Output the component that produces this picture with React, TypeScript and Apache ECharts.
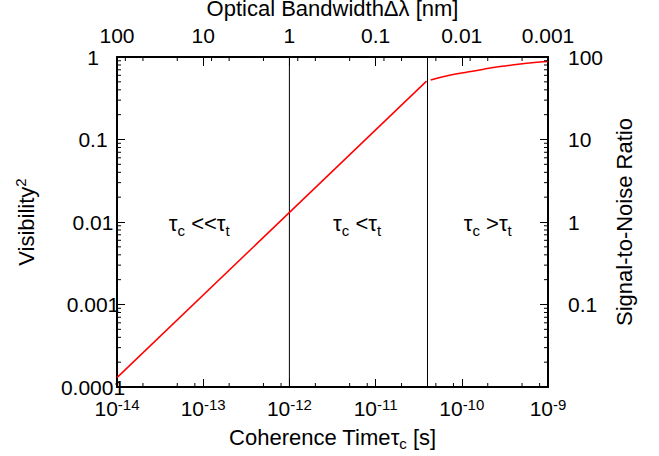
import React, { useEffect, useRef } from "react";
import * as echarts from "echarts";

const FONT = "'Liberation Sans', Arial, Helvetica, sans-serif";

// Coherence time range [s] and optical bandwidth range [nm]
const tauRange = [1e-14, 1e-9];
const bandwidthRange = [0.001, 100];
const visibilityRange = [1e-4, 1];
const snrRange = [0.01, 100];

// Red curve: visibility^2 vs coherence time
const visibilityLow: [number, number][] = [
  [1e-14, 1.3e-4],
  [3.9e-11, 0.51],
];
const visibilityHigh: [number, number][] = [
  [4.35e-11, 0.526],
  [7e-11, 0.595],
  [1.14e-10, 0.655],
  [1.8e-10, 0.712],
  [2.77e-10, 0.765],
  [4e-10, 0.805],
  [5.66e-10, 0.839],
  [7.5e-10, 0.862],
  [1e-9, 0.88],
];

// Regime boundaries (vertical lines)
const regimeBounds = [1e-12, 4e-11];

// Regime annotations
const regimeLabelX = [9e-14, 6.1e-12, 2.0e-10];
const regimeLabelY = [0.0095, 0.0095, 0.0095];
const regimeOps = ["<<", "<", ">"];

// Minor tick multipliers per decade
const bottomMinor = [2, 5, 8];
const topMinor = [2, 5, 8];
const leftMinor = [2, 3, 4, 5, 6, 7, 8, 9];
const rightMinor = [2, 3, 4, 5, 6, 7, 8, 9];

function minorValues(range: number[], mult: number[]): number[] {
  const out: number[] = [];
  const lo = Math.round(Math.log10(range[0]));
  const hi = Math.round(Math.log10(range[1]));
  for (let e = lo; e < hi; e++) {
    for (const m of mult) out.push(m * Math.pow(10, e));
  }
  return out;
}

function decimalLabel(v: number): string {
  const e = Math.round(Math.log10(v));
  if (e >= 0) return String(Math.pow(10, e));
  return "0." + "0".repeat(-e - 1) + "1";
}

function tickSeries(data: number[][], xIdx: number, yIdx: number, dx: number, dy: number) {
  return {
    type: "custom",
    xAxisIndex: xIdx,
    yAxisIndex: yIdx,
    silent: true,
    clip: false,
    z: 5,
    data,
    renderItem: (params: any, api: any) => {
      const p = api.coord([api.value(0), api.value(1)]);
      return {
        type: "line",
        shape: { x1: p[0], y1: p[1], x2: p[0] + dx, y2: p[1] + dy },
        style: { stroke: "#000", lineWidth: 1 },
      };
    },
  };
}

export default function App() {
  const ref = useRef<HTMLDivElement>(null);

  useEffect(() => {
    if (!ref.current) return;
    const chart = echarts.init(ref.current, undefined, { renderer: "svg" });

    const labelText = { fontFamily: FONT, fontSize: 21, color: "#000" };
    const nameText = { fontFamily: FONT, fontSize: 22, color: "#000" };
    const smallText = { fontFamily: FONT, fontSize: 15, color: "#000" };

    const option: any = {
      animation: false,
      backgroundColor: "#fff",
      textStyle: { fontFamily: FONT, color: "#000" },
      grid: {
        left: 117,
        right: 111,
        top: 57,
        bottom: 69,
        containLabel: false,
        outerBoundsMode: "none",
      },
      xAxis: [
        {
          type: "log",
          position: "bottom",
          min: tauRange[0],
          max: tauRange[1],
          logBase: 10,
          name: "{n|Coherence Time}{t|τ}{s|c}{n| [s]}",
          nameLocation: "middle",
          nameGap: 36,
          nameTextStyle: {
            ...nameText,
            rich: {
              n: { ...nameText, lineHeight: 28 },
              t: { ...nameText, lineHeight: 28 },
              s: { ...smallText, verticalAlign: "bottom", lineHeight: 15 },
            },
          },
          axisLine: { show: true, lineStyle: { color: "#000", width: 2 } },
          axisTick: { show: true, inside: true, length: 8, lineStyle: { color: "#000", width: 1 } },
          splitLine: { show: false },
          axisLabel: {
            margin: 10,
            formatter: (v: number) => {
              const e = Math.round(Math.log10(v));
              return `{b|10}{p|${e < 0 ? "-" : ""}${Math.abs(e)}}`;
            },
            rich: {
              b: { ...labelText, lineHeight: 22 },
              p: { ...smallText, verticalAlign: "top", lineHeight: 15 },
            },
          },
        },
        {
          type: "log",
          position: "top",
          inverse: true,
          min: bandwidthRange[0],
          max: bandwidthRange[1],
          logBase: 10,
          name: "Optical BandwidthΔλ [nm]",
          nameLocation: "middle",
          nameGap: 25,
          nameTextStyle: { ...nameText, lineHeight: 22 },
          axisLine: { show: true, lineStyle: { color: "#000", width: 2 } },
          axisTick: { show: true, inside: true, length: 9, lineStyle: { color: "#000", width: 1 } },
          splitLine: { show: false },
          axisLabel: { ...labelText, lineHeight: 22, margin: 11, formatter: (v: number) => decimalLabel(v) },
        },
      ],
      yAxis: [
        {
          type: "log",
          position: "left",
          min: visibilityRange[0],
          max: visibilityRange[1],
          logBase: 10,
          name: "{v|Visibility}{p|2}",
          nameLocation: "middle",
          nameRotate: 90,
          nameGap: 78,
          nameTextStyle: {
            ...nameText,
            rich: {
              v: { ...nameText, lineHeight: 26 },
              p: { ...smallText, verticalAlign: "top", lineHeight: 15 },
            },
          },
          axisLine: { show: true, lineStyle: { color: "#000", width: 2 } },
          axisTick: { show: true, inside: true, length: 8, lineStyle: { color: "#000", width: 1 } },
          splitLine: { show: false },
          axisLabel: {
            ...labelText,
            lineHeight: 19,
            align: "center",
            margin: 24,
            formatter: (v: number) => decimalLabel(v),
          },
        },
        {
          type: "log",
          position: "right",
          min: snrRange[0],
          max: snrRange[1],
          logBase: 10,
          name: "Signal-to-Noise Ratio",
          nameLocation: "middle",
          nameRotate: 90,
          nameGap: 55,
          nameTextStyle: { ...nameText },
          axisLine: { show: true, lineStyle: { color: "#000", width: 2 } },
          axisTick: { show: true, inside: true, length: 8, lineStyle: { color: "#000", width: 1 } },
          splitLine: { show: false },
          axisLabel: {
            ...labelText,
            margin: 20,
            formatter: (v: number) => (Math.round(Math.log10(v)) <= -2 ? "" : decimalLabel(v)),
          },
        },
      ],
      series: [
        {
          type: "line",
          xAxisIndex: 0,
          yAxisIndex: 0,
          data: visibilityLow,
          showSymbol: false,
          symbol: "none",
          lineStyle: { color: "#ff0000", width: 1.5 },
          z: 4,
        },
        {
          type: "line",
          xAxisIndex: 0,
          yAxisIndex: 0,
          data: visibilityHigh,
          smooth: true,
          showSymbol: false,
          symbol: "none",
          lineStyle: { color: "#ff0000", width: 1.5 },
          z: 4,
        },
        ...regimeBounds.map((b) => ({
          type: "line",
          xAxisIndex: 0,
          yAxisIndex: 0,
          data: [
            [b, visibilityRange[0]],
            [b, visibilityRange[1]],
          ],
          showSymbol: false,
          symbol: "none",
          silent: true,
          lineStyle: { color: "#000", width: 1 },
          z: 3,
        })),
        {
          type: "scatter",
          xAxisIndex: 0,
          yAxisIndex: 0,
          symbolSize: 0,
          silent: true,
          itemStyle: { opacity: 1, color: "#000" },
          data: regimeLabelX.map((x, i) => [x, regimeLabelY[i], regimeOps[i]]),
          label: {
            show: true,
            position: "inside",
            color: "#000",
            opacity: 1,
            textBorderWidth: 0,
            textBorderColor: "transparent",
            formatter: (p: any) => `{t|τ}{s|c}{t| ${p.data[2]}τ}{s|t}`,
            rich: {
              t: { ...nameText, lineHeight: 28, textBorderWidth: 0 },
              s: { ...smallText, verticalAlign: "bottom", lineHeight: 15, textBorderWidth: 0 },
            },
          },
        },
        tickSeries(minorValues(tauRange, bottomMinor).map((v) => [v, visibilityRange[0]]), 0, 0, 0, -4),
        tickSeries(minorValues(bandwidthRange, topMinor).map((v) => [v, visibilityRange[1]]), 1, 0, 0, 4),
        tickSeries(minorValues(visibilityRange, leftMinor).map((v) => [tauRange[0], v]), 0, 0, 4, 0),
        tickSeries(minorValues(snrRange, rightMinor).map((v) => [tauRange[1], v]), 0, 1, -4, 0),
      ],
    };

    chart.setOption(option);
    return () => chart.dispose();
  }, []);

  return (
    <div
      ref={ref}
      style={{ position: "absolute", left: 0, top: 0, width: 659, height: 456, background: "#fff" }}
    />
  );
}
